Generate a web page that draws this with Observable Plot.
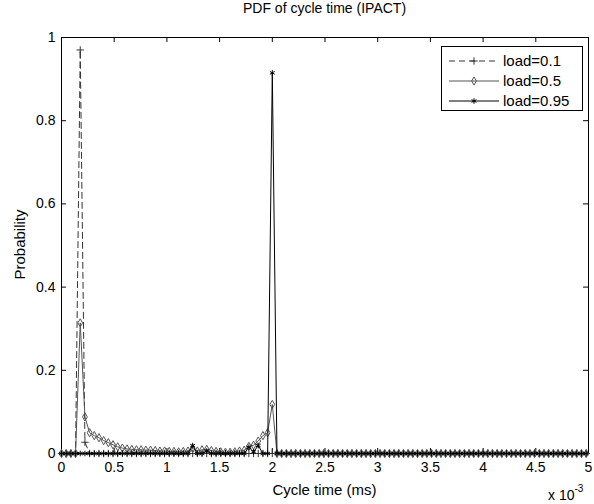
<!DOCTYPE html>
<html>
<head>
<meta charset="utf-8">
<script src="https://cdn.jsdelivr.net/npm/d3@7"></script>
<script src="https://cdn.jsdelivr.net/npm/@observablehq/plot@0.6"></script>
<style>
  body { margin: 0; background: #fff; font-family: "Liberation Sans", Arial, Helvetica, sans-serif; }
  #wrap { position: relative; width: 594px; height: 504px; overflow: hidden; }
  #title { position: absolute; left: 61px; width: 527px; top: 0px; text-align: center; font-size: 14px; line-height: 16px; color: #000; }
  #xlabel { position: absolute; left: 61px; width: 527px; top: 481px; text-align: center; font-size: 15px; line-height: 17px; color: #000; }
  #ylabel { position: absolute; left: 19px; top: 245px; width: 200px; margin-left: -100px; margin-top: -9px; text-align: center; font-size: 15px; line-height: 17px; transform: rotate(-90deg); color: #000; }
  #exp { position: absolute; left: 548px; top: 483px; font-size: 14px; line-height: 16px; color: #000; white-space: nowrap; }
  #exp sup { font-size: 10px; position: relative; top: -2px; }
  #legend { position: absolute; left: 441px; top: 46px; }
</style>
</head>
<body>
<div id="wrap">
  <div id="chart"></div>
  <div id="title">PDF of cycle time (IPACT)</div>
  <div id="xlabel">Cycle time (ms)</div>
  <div id="ylabel">Probability</div>
  <div id="exp">x 10<sup>-3</sup></div>
  <div id="legend"></div>
</div>
<script>
// Sampling grid of the PDF (cycle time, units of 10^-3 ms)
const binWidth = 2 / 45;

const seriesNames = ["load=0.1", "load=0.5", "load=0.95"];

const load01 = [
  0, 0, 0, 0, 0.97, 0.027, 0, 0, 0, 0,
  0, 0, 0, 0, 0, 0, 0, 0, 0, 0,
  0, 0, 0, 0, 0, 0, 0, 0, 0, 0,
  0, 0, 0, 0, 0, 0, 0, 0, 0, 0,
  0, 0, 0, 0, 0, 0, 0, 0, 0, 0,
  0, 0, 0, 0, 0, 0, 0, 0, 0, 0,
  0, 0, 0, 0, 0, 0, 0, 0, 0, 0,
  0, 0, 0, 0, 0, 0, 0, 0, 0, 0,
  0, 0, 0, 0, 0, 0, 0, 0, 0, 0,
  0, 0, 0, 0, 0, 0, 0, 0, 0, 0,
  0, 0, 0, 0, 0, 0, 0, 0, 0, 0,
  0, 0, 0
];

const load05 = [
  0, 0, 0, 0, 0.314, 0.088, 0.050, 0.043, 0.038, 0.031,
  0.026, 0.021, 0.016, 0.013, 0.011, 0.010, 0.009, 0.009, 0.008, 0.008,
  0.007, 0.006, 0.006, 0.005, 0.005, 0.004, 0.005, 0.006, 0.012, 0.006,
  0.009, 0.010, 0.007, 0.005, 0.004, 0.003, 0.003, 0.004, 0.006, 0.008,
  0.017, 0.020, 0.030, 0.043, 0.050, 0.118, 0, 0, 0, 0,
  0, 0, 0, 0, 0, 0, 0, 0, 0, 0,
  0, 0, 0, 0, 0, 0, 0, 0, 0, 0,
  0, 0, 0, 0, 0, 0, 0, 0, 0, 0,
  0, 0, 0, 0, 0, 0, 0, 0, 0, 0,
  0, 0, 0, 0, 0, 0, 0, 0, 0, 0,
  0, 0, 0, 0, 0, 0, 0, 0, 0, 0,
  0, 0, 0
];

const load095 = [
  0, 0, 0, 0, 0, 0, 0, 0, 0, 0,
  0, 0, 0, 0, 0, 0, 0, 0, 0, 0,
  0, 0, 0, 0, 0, 0, 0, 0, 0.019, 0,
  0, 0.006, 0, 0, 0, 0, 0, 0, 0, 0,
  0.015, 0.004, 0.019, 0, 0, 0.915, 0, 0, 0, 0,
  0, 0, 0, 0, 0, 0, 0, 0, 0, 0,
  0, 0, 0, 0, 0, 0, 0, 0, 0, 0,
  0, 0, 0, 0, 0, 0, 0, 0, 0, 0,
  0, 0, 0, 0, 0, 0, 0, 0, 0, 0,
  0, 0, 0, 0, 0, 0, 0, 0, 0, 0,
  0, 0, 0, 0, 0, 0, 0, 0, 0, 0,
  0, 0, 0
];

const xTicks = [0, 0.5, 1, 1.5, 2, 2.5, 3, 3.5, 4, 4.5, 5];
const yTicks = [0, 0.2, 0.4, 0.6, 0.8, 1];

// Styles per series
const styles = [
  {stroke: "#333", dash: "6,4", symbol: "plus", r: 2.5},
  {stroke: "#555", dash: null, symbol: "diamond", r: 2.5},
  {stroke: "#000", dash: null, symbol: "asterisk", r: 2.6}
];

const toRows = (vals) => vals.map((v, k) => ({x: k * binWidth, y: v}));
const rows = [toRows(load01), toRows(load05), toRows(load095)];

const marks = [
  Plot.frame({stroke: "#000", strokeWidth: 1}),
  // inward ticks (MATLAB box style)
  Plot.ruleX(xTicks, {x: d => d, y1: 0, y2: 0.012, stroke: "#000"}),
  Plot.ruleX(xTicks, {x: d => d, y1: 1, y2: 0.988, stroke: "#000"}),
  Plot.ruleY(yTicks, {y: d => d, x1: 0, x2: 0.047, stroke: "#000"}),
  Plot.ruleY(yTicks, {y: d => d, x1: 5, x2: 4.953, stroke: "#000"}),
  Plot.axisX({ticks: xTicks, tickSize: 0, tickPadding: 9, tickFormat: d => String(d), label: null}),
  Plot.axisY({ticks: yTicks, tickSize: 0, tickPadding: 6, tickFormat: d => String(d), label: null})
];

rows.forEach((r, i) => {
  const s = styles[i];
  marks.push(Plot.line(r, {x: "x", y: "y", stroke: s.stroke, strokeWidth: 1,
    strokeDasharray: s.dash || undefined}));
  marks.push(Plot.dot(r, {x: "x", y: "y", symbol: () => s.symbol, r: s.r,
    stroke: s.stroke, fill: "none", strokeWidth: 1}));
});

const chart = Plot.plot({
  width: 594,
  height: 504,
  marginLeft: 61,
  marginRight: 6,
  marginTop: 37,
  marginBottom: 51,
  x: {domain: [0, 5]},
  y: {domain: [0, 1]},
  style: {fontSize: "14px", fontFamily: "'Liberation Sans', Arial, Helvetica, sans-serif", color: "#000", background: "#fff"},
  marks
});
document.getElementById("chart").appendChild(chart);

// Legend
const lw = 142, lh = 65;
const svg = d3.select("#legend").append("svg").attr("width", lw).attr("height", lh)
  .style("display", "block");
svg.append("rect").attr("x", 0.5).attr("y", 0.5).attr("width", lw - 1).attr("height", lh - 1)
  .attr("fill", "#fff").attr("stroke", "#000");
const symMap = {plus: d3.symbolPlus, diamond: d3.symbolDiamond, asterisk: d3.symbolAsterisk};
seriesNames.forEach((name, i) => {
  const s = styles[i];
  const cy = 15 + i * 20;
  svg.append("line").attr("x1", 8).attr("x2", 58).attr("y1", cy).attr("y2", cy)
    .attr("stroke", s.stroke).attr("stroke-width", 1)
    .attr("stroke-dasharray", s.dash || null);
  svg.append("path").attr("transform", `translate(33,${cy})`)
    .attr("d", d3.symbol(symMap[s.symbol], Math.PI * s.r * s.r)())
    .attr("fill", "none").attr("stroke", s.stroke).attr("stroke-width", 1);
  svg.append("text").attr("x", 62).attr("y", cy + 5).text(name)
    .attr("font-size", 15).attr("font-family", "'Liberation Sans', Arial, sans-serif");
});
</script>
</body>
</html>
